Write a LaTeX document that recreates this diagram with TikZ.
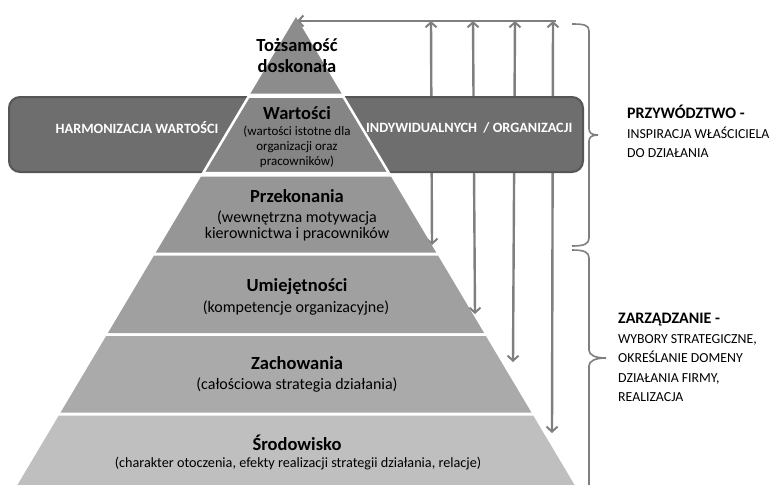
\documentclass[tikz,border=0pt]{standalone}
\usepackage{fontspec}
\setmainfont{Carlito}
\usetikzlibrary{arrows.meta}
\definecolor{arrgray}{HTML}{7F7F7F}
\definecolor{rectfill}{HTML}{6E6E6E}
\definecolor{rectline}{HTML}{565656}
\definecolor{cTop}{HTML}{8C8C8C}
\definecolor{cW}{HTML}{858585}
\definecolor{cP}{HTML}{969696}
\definecolor{cU}{HTML}{A0A0A0}
\definecolor{cZ}{HTML}{AAAAAA}
\definecolor{cS}{HTML}{BFBFBF}
\newcommand{\pyrband}[4][]{%
  \pgfmathsetmacro\ha{0.5953*(#2-17)}%
  \pgfmathsetmacro\hb{0.5953*(#3-17)}%
  \path[fill=#4,#1] (296-\ha,#2) -- (296+\ha,#2) -- (296+\hb,#3) -- (296-\hb,#3) -- cycle;}
\tikzset{
  ttl/.style={font=\fontsize{18.5}{21}\selectfont\bfseries, align=center, inner sep=0pt},
  subt/.style={font=\fontsize{16}{16}\selectfont, align=center, inner sep=0pt},
  arr/.style={draw=arrgray, line width=2.4pt},
  tipb/.tip={Straight Barb[length=5pt,width=11pt,line width=2pt]},
  bracestyle/.style={draw=arrgray, line width=1.6pt},
  bandtxt/.style={font=\fontsize{14.2}{16}\selectfont\bfseries, text=white, inner sep=0pt},
  sidettl/.style={font=\fontsize{13.8}{19.5}\selectfont, align=left, inner sep=0pt, anchor=north west},
}
\begin{document}
\begin{tikzpicture}[x=1pt,y=-1pt]
\useasboundingbox (0,0) rectangle (772,485);
\clip (0,0) rectangle (772,485);
% connector coordinates
\coordinate (apex) at (297,21);
\coordinate (hr) at (556,21);
\coordinate (t1) at (431,21); \coordinate (b1) at (432,245);
\coordinate (t2) at (473,21); \coordinate (b2) at (475,314);
\coordinate (t3) at (515,21); \coordinate (b3) at (513,362);
\coordinate (t4) at (553,21); \coordinate (b4) at (552,433);
% arrows
\draw[arr,-tipb] (hr) -- (apex);
\draw[arr,tipb-tipb] (b1) -- (t1);
\draw[arr,tipb-tipb] (b2) -- (t2);
\draw[arr,tipb-tipb] (b3) -- (t3);
\draw[arr,tipb-tipb] (b4) -- (t4);
% band rectangle
\draw[fill=rectfill, draw=rectline, line width=2pt, rounded corners=11pt] (9,97) rectangle (583,172);
% pyramid
\pyrband{17}{93.5}{cTop}
\pyrband[draw=white,line width=2.5pt]{96.5}{173}{cW}
\pyrband{176.5}{252.5}{cP}
\pyrband{255.5}{333}{cU}
\pyrband{336}{412.5}{cZ}
\pyrband{415.5}{495}{cS}
% braces
\draw[bracestyle] (572,24) .. controls (584,24) and (589,25) .. (589,31) -- (589,129)
  .. controls (589,133) and (592,135) .. (598,135) .. controls (592,135) and (589,137) .. (589,141)
  -- (589,238) .. controls (589,244) and (584,246) .. (572,246);
\draw[bracestyle] (572,250) .. controls (584,250) and (589,252) .. (589,258) -- (589,350)
  .. controls (589,355) and (595,358) .. (606,358) .. controls (595,358) and (589,361) .. (589,366)
  -- (589,495);
% texts in the band
\node[bandtxt] (harm) at (137,128) {HARMONIZACJA WARTOŚCI};
\node[bandtxt, anchor=west] (indyw) at (366,128) {INDYWIDUALNYCH \ / ORGANIZACJI};
% pyramid texts
\node[ttl] (tozs) at (297,55.5) {Tożsamość\\doskonała};
\node[ttl] (wart) at (297,113) {Wartości};
\node[font=\fontsize{13}{15}\selectfont, align=center, inner sep=0pt] (wartsub) at (297,146.5) {(wartości istotne dla\\organizacji oraz\\pracowników)};
\node[ttl] (przek) at (297,196) {Przekonania};
\node[subt] (przeksub) at (297,225.5) {(wewnętrzna motywacja\\kierownictwa i pracowników};
\node[ttl] (umiej) at (297,287) {Umiejętności};
\node[subt] (umiejsub) at (296,308) {(kompetencje organizacyjne)};
\node[ttl] (zach) at (297,363) {Zachowania};
\node[subt] (zachsub) at (297,385) {(całościowa strategia działania)};
\node[ttl] (srod) at (297,443) {Środowisko};
\node[font=\fontsize{14.2}{16}\selectfont, inner sep=0pt] (srodsub) at (298,464) {(charakter otoczenia, efekty realizacji strategii działania, relacje)};
% side labels
\node[sidettl] (przyw) at (627,105) {\textbf{\fontsize{16}{19.5}\selectfont PRZYWÓDZTWO -}\\INSPIRACJA WŁAŚCICIELA\\DO DZIAŁANIA};
\node[sidettl] (zarz) at (618,313) {\textbf{\fontsize{16}{19.5}\selectfont ZARZĄDZANIE -}\\WYBORY STRATEGICZNE,\\OKREŚLANIE DOMENY\\DZIAŁANIA FIRMY,\\REALIZACJA};
\end{tikzpicture}
\end{document}
